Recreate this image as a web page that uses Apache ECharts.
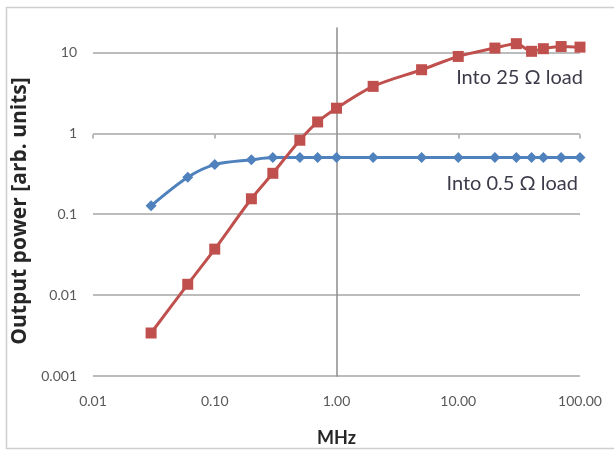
<!DOCTYPE html>
<html>
<head>
<meta charset="utf-8">
<script src="https://cdn.jsdelivr.net/npm/echarts@6/dist/echarts.min.js"></script>
<style>
  html, body { margin: 0; padding: 0; background: #fff; }
  #chart { width: 614px; height: 452px; }
</style>
</head>
<body>
<div id="chart"></div>
<script>
// frequency points (MHz), shared by both curves
const freq = [0.03, 0.06, 0.1, 0.2, 0.3, 0.5, 0.7, 1, 2, 5, 10, 20, 30, 40, 50, 70, 100];
const load25 = [0.0034, 0.0136, 0.037, 0.155, 0.32, 0.82, 1.38, 2.04, 3.8, 6.1, 8.9, 11.3, 12.8, 10.3, 11.1, 11.8, 11.6];
const load05 = [0.127, 0.286, 0.41, 0.47, 0.5, 0.5, 0.5, 0.5, 0.5, 0.5, 0.5, 0.5, 0.5, 0.5, 0.5, 0.5, 0.5];

const xTickLabels = ['0.01', '0.10', '1.00', '10.00', '100.00'];
const yTickLabels = ['0.001', '0.01', '0.1', '1', '10'];

const xMin = 0.01, xMax = 100;
const yMin = 0.001, yMax = 20;

const gridLeft = 93, gridRight = 34, gridTop = 28, gridBottom = 72;
const plotW = 614 - gridLeft - gridRight;
const plotH = 452 - gridTop - gridBottom;

// the two axes cross at 1 MHz / 1 unit, like the Excel original
const xSpan = Math.log10(xMax) - Math.log10(xMin);
const ySpan = Math.log10(yMax) - Math.log10(yMin);
const crossYOffset = -plotW * Math.log10(xMax) / xSpan;
const crossXOffset = -plotH * Math.log10(yMax) / ySpan;

const pick = (labels, min) => v => {
  const e = Math.log10(v);
  if (Math.abs(e - Math.round(e)) > 1e-6) return '';
  const i = Math.round(e - Math.log10(min));
  return labels[i] || '';
};

const toPairs = ys => freq.map((f, i) => [f, ys[i]]);

const chart = echarts.init(document.getElementById('chart'));
chart.setOption({
  animation: false,
  backgroundColor: '#fff',
  grid: { left: gridLeft, right: gridRight, top: gridTop, bottom: gridBottom },
  xAxis: [
    {
      type: 'log',
      logBase: 10,
      min: xMin,
      max: xMax,
      position: 'bottom',
      axisLine: { show: false },
      axisTick: { show: false },
      splitLine: { show: false },
      axisLabel: {
        margin: 18,
        color: '#595959',
        fontFamily: 'Lato',
        fontSize: 14,
        formatter: pick(xTickLabels, xMin)
      },
      name: 'MHz',
      nameLocation: 'middle',
      nameGap: 53,
      nameTextStyle: { color: '#262626', fontFamily: 'Lato', fontWeight: 'bold', fontSize: 18 }
    },
    {
      // ticks only; the gridline at 1 is the line itself
      type: 'log',
      logBase: 10,
      min: xMin,
      max: xMax,
      position: 'top',
      offset: crossXOffset,
      axisLine: { show: false },
      axisTick: { show: true, inside: true, length: 4, lineStyle: { color: '#a6a6a6', width: 1.5 } },
      axisLabel: { show: false },
      splitLine: { show: false }
    }
  ],
  yAxis: [
    {
      type: 'log',
      logBase: 10,
      min: yMin,
      max: yMax,
      position: 'left',
      axisLine: { show: false },
      axisTick: { show: false },
      splitLine: { show: true, showMaxLine: false, lineStyle: { color: '#a6a6a6', width: 1.5 } },
      axisLabel: {
        margin: 16,
        color: '#595959',
        fontFamily: 'Lato',
        fontSize: 14,
        showMaxLabel: false,
        formatter: pick(yTickLabels, yMin)
      },
      name: 'Output power [arb. units]',
      nameLocation: 'middle',
      nameGap: 58,
      nameTextStyle: {
        color: '#262626',
        fontFamily: 'Open Sans',
        fontWeight: 'bold',
        fontSize: 21,
        padding: [0, 18, 0, 0]
      }
    },
    {
      type: 'log',
      logBase: 10,
      min: yMin,
      max: yMax,
      position: 'right',
      offset: crossYOffset,
      axisLine: { show: true, lineStyle: { color: '#8c8c8c', width: 1.5 } },
      axisTick: { show: false },
      axisLabel: { show: false },
      splitLine: { show: false }
    }
  ],
  series: [
    {
      name: 'Into 0.5 Ω load',
      type: 'line',
      smooth: 0.3,
      data: toPairs(load05),
      symbol: 'diamond',
      symbolSize: 11,
      itemStyle: { color: '#4F81BD' },
      lineStyle: { color: '#4F81BD', width: 3 },
      z: 3
    },
    {
      name: 'Into 25 Ω load',
      type: 'line',
      smooth: 0.3,
      data: toPairs(load25),
      symbol: 'rect',
      symbolSize: 11,
      itemStyle: { color: '#C0504D' },
      lineStyle: { color: '#C0504D', width: 3 },
      z: 4
    }
  ],
  graphic: [
    {
      type: 'rect',
      silent: true,
      shape: { x: 6.5, y: 7.5, width: 640, height: 441 },
      style: { fill: 'none', stroke: '#cfcfcf', lineWidth: 1.5 }
    },
    {
      type: 'text',
      x: 583,
      y: 78,
      style: { text: 'Into 25 Ω load', fill: '#3b3b4a', font: '20px Lato', align: 'right', verticalAlign: 'middle' }
    },
    {
      type: 'text',
      x: 578,
      y: 184,
      style: { text: 'Into 0.5 Ω load', fill: '#3b3b4a', font: '20px Lato', align: 'right', verticalAlign: 'middle' }
    }
  ]
});
</script>
</body>
</html>
